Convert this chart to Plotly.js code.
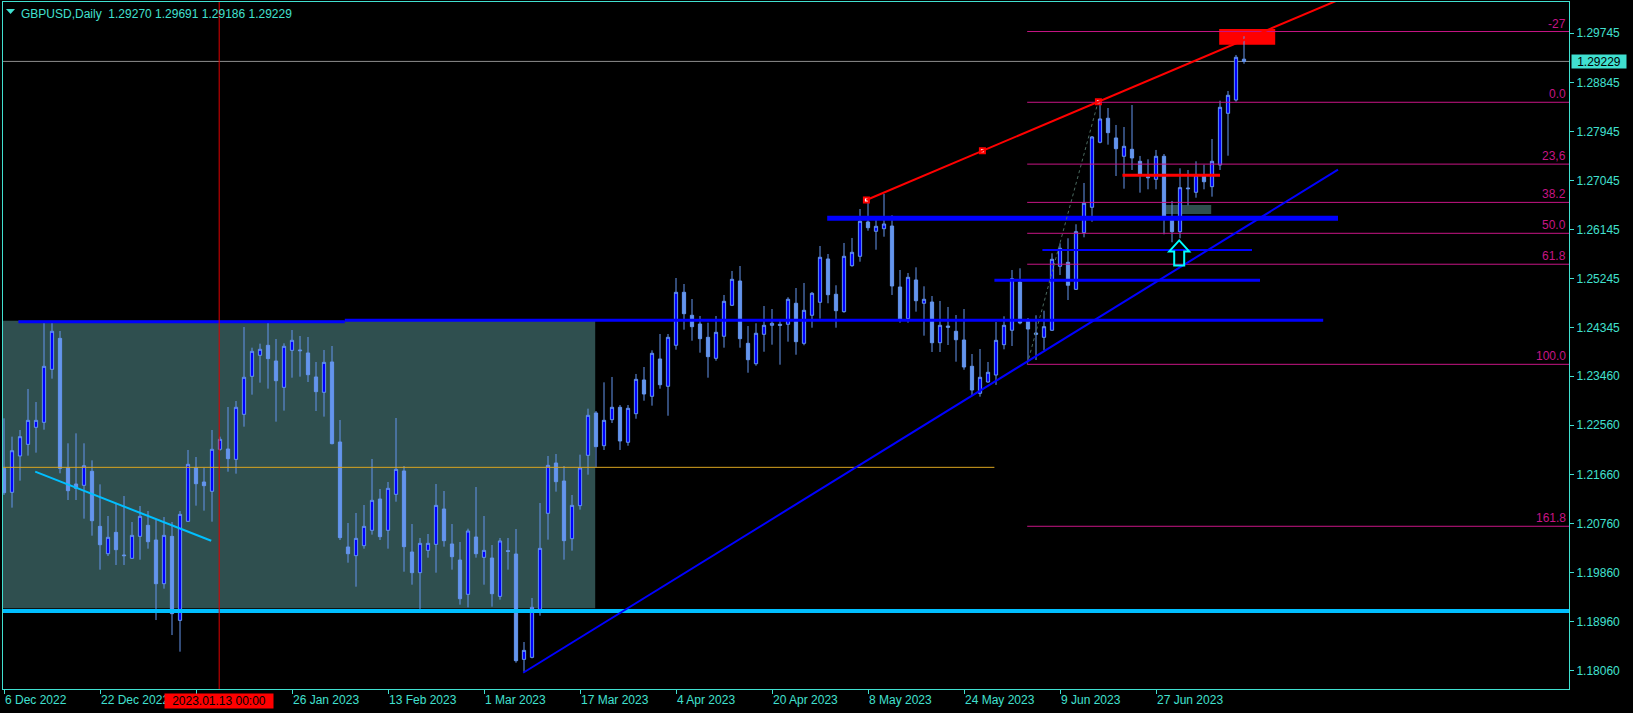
<!DOCTYPE html>
<html><head><meta charset="utf-8">
<script src="https://cdn.plot.ly/plotly-3.0.1.min.js"></script>
<style>html,body{margin:0;padding:0;background:#000;}#chart{width:1633px;height:713px;}</style>
</head><body><div id="chart"></div>
<script>
// ---------- DATA ----------
const openP = [
1.21770,1.21331,1.21997,1.22210,1.22522,1.22614,1.23585,1.24153,1.21783,1.21483,
1.21459,1.21716,1.20707,1.20206,1.20597,1.20182,1.20121,1.20524,1.20726,1.20457,
1.19656,1.20524,1.18984,1.20799,1.21783,1.21520,1.21349,1.22119,1.22125,1.21935,
1.22760,1.23457,1.23842,1.24025,1.23738,1.23255,1.23933,1.23940,1.23885,1.23445,
1.23164,1.23720,1.22253,1.20329,1.20170,1.20353,1.20634,1.21208,1.20634,1.21294,
1.21722,1.20237,1.19858,1.20267,1.20377,1.21025,1.20384,1.20090,1.19461,1.20512,
1.20139,1.20127,1.19424,1.20261,1.20200,1.18269,1.18306,1.19168,1.20946,1.21868,
1.21538,1.20481,1.21086,1.22009,1.22785,1.22185,1.22662,1.22889,1.22248,1.22772,
1.23390,1.23091,1.23775,1.23274,1.24026,1.24997,1.24576,1.24416,1.24172,1.23787,
1.24191,1.24759,1.25204,1.24062,1.23688,1.24227,1.24392,1.24411,1.24411,1.24796,
1.24062,1.24576,1.24814,1.25608,1.24961,1.24642,1.25485,1.25657,1.26286,1.26115,
1.26163,1.26212,1.25094,1.24513,1.25223,1.24796,1.24819,1.24073,1.24379,1.24282,
1.24123,1.23641,1.23146,1.23353,1.23481,1.24037,1.24301,1.25186,1.24471,1.24251,
1.24172,1.24301,1.25474,1.25547,1.25052,1.26090,1.26555,1.27747,1.28187,1.27826,
1.27490,1.27618,1.27398,1.27116,1.27068,1.27490,1.26354,1.26108,1.26909,1.26830,
1.27129,1.26933,1.27331,1.28278,1.28522,1.29270];
const highP = [
1.22687,1.22351,1.22473,1.23225,1.22986,1.24441,1.24441,1.24288,1.22229,1.22412,
1.22229,1.21917,1.21477,1.20897,1.21117,1.21263,1.20787,1.21080,1.20988,1.20823,
1.20878,1.20787,1.20988,1.22107,1.21978,1.21783,1.22473,1.22351,1.22895,1.23005,
1.24361,1.23982,1.24056,1.24441,1.24141,1.24062,1.24306,1.24196,1.24178,1.23720,
1.23940,1.24013,1.22656,1.20768,1.20952,1.21098,1.21942,1.21392,1.21520,1.22693,
1.21813,1.20750,1.20494,1.20567,1.21483,1.21355,1.20750,1.20420,1.20665,1.21428,
1.20897,1.20365,1.20494,1.20494,1.20658,1.18587,1.19394,1.21135,1.21997,1.22033,
1.21813,1.21282,1.22021,1.22864,1.22821,1.23347,1.23445,1.22931,1.22931,1.23500,
1.23628,1.23934,1.24233,1.24233,1.25259,1.25149,1.24874,1.24563,1.24440,1.24563,
1.24948,1.25388,1.25479,1.24379,1.24429,1.24746,1.24691,1.24484,1.24906,1.25076,
1.25168,1.25003,1.25846,1.25699,1.25126,1.25901,1.25993,1.26524,1.26689,1.26390,
1.26799,1.26409,1.25406,1.25351,1.25455,1.25107,1.24929,1.24838,1.24728,1.24581,
1.24691,1.23866,1.23958,1.23720,1.24453,1.24557,1.25406,1.25437,1.24526,1.24576,
1.24660,1.25712,1.25895,1.25987,1.26244,1.27001,1.27862,1.28522,1.28375,1.28064,
1.28027,1.28430,1.27496,1.27435,1.27606,1.27532,1.26671,1.27270,1.27239,1.27398,
1.27336,1.27807,1.28509,1.28687,1.29347,1.29691];
const lowP = [
1.21282,1.21050,1.21544,1.22003,1.22058,1.22479,1.23414,1.21679,1.21190,1.21190,
1.20848,1.20536,1.19913,1.20164,1.19999,1.19999,1.20109,1.20096,1.20298,1.18990,
1.19565,1.18715,1.18410,1.20793,1.21086,1.20995,1.20793,1.22094,1.21709,1.21673,
1.22534,1.23121,1.23341,1.23231,1.22626,1.22828,1.23432,1.23451,1.23353,1.22821,
1.22718,1.22210,1.20457,1.20041,1.19601,1.20298,1.20555,1.20457,1.20298,1.21159,
1.19876,1.19638,1.19174,1.20133,1.19858,1.20335,1.19913,1.19272,1.19223,1.20133,
1.19638,1.19235,1.19363,1.19913,1.18208,1.18043,1.18288,1.19070,1.20463,1.21343,
1.20096,1.20261,1.21013,1.21654,1.21789,1.22107,1.22601,1.22107,1.22185,1.22680,
1.23010,1.22919,1.23230,1.22735,1.23945,1.24312,1.24110,1.23890,1.23432,1.23743,
1.23982,1.24746,1.23982,1.23523,1.23652,1.23908,1.24037,1.23670,1.24092,1.23853,
1.24026,1.24348,1.24513,1.24796,1.24348,1.24623,1.25466,1.25558,1.26126,1.25778,
1.26016,1.24948,1.24440,1.24440,1.24642,1.24202,1.23903,1.23903,1.24031,1.23725,
1.23578,1.23115,1.23084,1.23340,1.23300,1.23952,1.24013,1.24411,1.23725,1.23756,
1.23940,1.24288,1.25314,1.24856,1.25039,1.26005,1.26291,1.27728,1.27703,1.27129,
1.26896,1.27239,1.26823,1.26885,1.26885,1.26060,1.25914,1.25987,1.26592,1.26731,
1.26885,1.26750,1.27239,1.27501,1.28491,1.29186];
const closeP = [
1.21324,1.22094,1.22351,1.22650,1.22650,1.23640,1.24282,1.21770,1.21361,1.21404,
1.21819,1.20811,1.20371,1.20506,1.20280,1.20170,1.20542,1.20891,1.20426,1.19656,
1.20542,1.19107,1.20927,1.21844,1.21489,1.21453,1.22119,1.22302,1.21948,1.22889,
1.23439,1.23915,1.23952,1.23781,1.23377,1.24007,1.24117,1.23927,1.23487,1.23176,
1.23713,1.22223,1.20500,1.20206,1.20487,1.20707,1.21184,1.20518,1.21404,1.21752,
1.20335,1.19858,1.20396,1.20396,1.21092,1.20445,1.20151,1.19381,1.20622,1.20206,
1.20267,1.19473,1.20439,1.20249,1.18245,1.18434,1.19223,1.20304,1.21825,1.21526,
1.20445,1.21092,1.21777,1.22742,1.22168,1.22651,1.22889,1.22272,1.22871,1.23402,
1.23133,1.23879,1.23303,1.24172,1.24997,1.24605,1.24367,1.24147,1.23817,1.24264,
1.24832,1.25235,1.24147,1.23762,1.24246,1.24392,1.24429,1.24392,1.24869,1.24092,
1.24667,1.24979,1.25639,1.24953,1.24660,1.25657,1.25730,1.26299,1.26181,1.26207,
1.26249,1.25113,1.24502,1.25272,1.24843,1.24869,1.24073,1.24392,1.24356,1.24128,
1.23628,1.23206,1.23439,1.23531,1.24117,1.24392,1.25246,1.24434,1.24324,1.24227,
1.24367,1.25602,1.25804,1.25126,1.26108,1.26629,1.27844,1.28174,1.27923,1.27629,
1.27673,1.27459,1.27166,1.27098,1.27490,1.26346,1.26108,1.26915,1.26896,1.27147,
1.27024,1.27398,1.28388,1.28608,1.29305,1.29229];

const dateTickLabels = ['6 Dec 2022','22 Dec 2022','10 Jan 2023','26 Jan 2023','13 Feb 2023','1 Mar 2023',
  '17 Mar 2023','4 Apr 2023','20 Apr 2023','8 May 2023','24 May 2023','9 Jun 2023','27 Jun 2023'];
const barsPerDateTick = 12;
const priceTicks = [1.29745,1.28845,1.27945,1.27045,1.26145,1.25245,1.24345,1.23460,1.22560,1.21660,1.20760,1.19860,1.18960,1.18060];

const symbolName = 'GBPUSD,Daily';
const lastBarOHLC = [1.29270,1.29691,1.29186,1.29229];
const crosshairBar = 26.9;
const crosshairLabel = '2023.01.13 00:00';

// analysis objects (bar index, price)
const zoneBarFrom = -2, zoneBarTo = 73.9, zoneLow = 1.19205, zoneHigh = 1.24477;
const supportPrice = 1.19155;
const pivotPrice = 1.21789, pivotBarTo = 123.8;
const blueLevelPrices = [1.24458, 1.24484, 1.26354, 1.25773, 1.25217];
const blueLevelFrom   = [1.8, 42.6, 102.9, 129.8, 123.8];
const blueLevelTo     = [42.6, 164.9, 166.75, 156.0, 157.0];
const redLevelPrice = 1.27142, redLevelFrom = 139.8, redLevelTo = 152.0;
const downTrendBars = [3.9, 25.9], downTrendPrices = [1.21709, 1.20444];
const upTrendBars = [64.9, 166.75], upTrendPrices = [1.18024, 1.27244];
const channelBars = [107.8, 136.8], channelPrices = [1.26689, 1.28491];
const fibLevels = [-27, 0, 23.6, 38.2, 50, 61.8, 100, 161.8];
const fibLabels = ['-27','0.0','23,6','38.2','50.0','61.8','100.0','161.8'];
const fibHigh = 1.28480, fibLow = 1.23677, fibLowBar = 127.9, fibHighBar = 136.75;
const targetBoxBars = [151.9, 158.9], targetBoxPrices = [1.29536, 1.29823];
const smallBoxBars = [145.25, 150.9], smallBoxPrices = [1.26432, 1.26597];
const arrowBar = 146.9, arrowPrice = 1.25948;

// ---------- DRAWING ----------
const TQ = '#40E0D0';
const FONT = 'Liberation Sans, Arial, sans-serif';
const bars = openP.map((_, i) => i);
const xMax = 195.625;

const candle = {
  type: 'candlestick', x: bars, open: openP, high: highP, low: lowP, close: closeP,
  increasing: {line: {color: '#6495ED', width: 1}, fillcolor: '#0000FF'},
  decreasing: {line: {color: '#6495ED', width: 1}, fillcolor: '#6495ED'},
  whiskerwidth: 0, hoverinfo: 'skip', showlegend: false
};
const chMid = (channelBars[0] + channelBars[1]) / 2;
const chSlope = (channelPrices[1] - channelPrices[0]) / (channelBars[1] - channelBars[0]);
const anchors = {
  type: 'scatter', mode: 'markers',
  x: [channelBars[0], chMid, channelBars[1]],
  y: [channelPrices[0], channelPrices[0] + chSlope * (chMid - channelBars[0]), channelPrices[1]],
  marker: {symbol: 'square', size: 5, color: '#FFFFFF', line: {color: '#FF0000', width: 2}},
  hoverinfo: 'skip', showlegend: false
};

const shapes = [];
const seg = (x0, y0, x1, y1, color, width, layer, dash) => shapes.push({
  type: 'line', xref: 'x', yref: 'y', x0, y0, x1, y1, layer: layer || 'above',
  line: {color, width, dash: dash || 'solid'}
});
shapes.push({type: 'rect', xref: 'x', yref: 'y', x0: zoneBarFrom, x1: zoneBarTo, y0: zoneLow, y1: zoneHigh,
  fillcolor: '#2F4F4F', line: {width: 0}, layer: 'below'});
shapes.push({type: 'rect', xref: 'x', yref: 'y', x0: smallBoxBars[0], x1: smallBoxBars[1], y0: smallBoxPrices[0], y1: smallBoxPrices[1],
  fillcolor: '#2F4F4F', line: {width: 0}, layer: 'below'});
shapes.push({type: 'rect', xref: 'x', yref: 'y', x0: targetBoxBars[0], x1: targetBoxBars[1], y0: targetBoxPrices[0], y1: targetBoxPrices[1],
  fillcolor: '#FF0000', line: {width: 0}, layer: 'below'});
shapes.push({type: 'line', xref: 'paper', yref: 'y', x0: 0, x1: 1, y0: lastBarOHLC[3], y1: lastBarOHLC[3],
  line: {color: '#8C8C8C', width: 1}, layer: 'below'});
seg(-2, pivotPrice, pivotBarTo, pivotPrice, '#DAA520', 1);
seg(-2, supportPrice, xMax + 2, supportPrice, '#00BFFF', 4);
const blueWidths = [3, 3, 5, 2, 3];
blueLevelPrices.forEach((p, i) => seg(blueLevelFrom[i], p, blueLevelTo[i], p, '#0000FF', blueWidths[i]));
seg(redLevelFrom, redLevelPrice, redLevelTo, redLevelPrice, '#FF0000', 3);
fibLevels.forEach(l => {
  const p = fibHigh - (fibHigh - fibLow) * l / 100;
  seg(fibLowBar, p, xMax + 1, p, '#C71585', 1);
});
seg(fibLowBar, fibLow, fibHighBar, fibHigh, '#4A6A60', 1, 'above', 'dot');
seg(downTrendBars[0], downTrendPrices[0], downTrendBars[1], downTrendPrices[1], '#00BFFF', 2);
seg(upTrendBars[0], upTrendPrices[0], upTrendBars[1], upTrendPrices[1], '#0000FF', 2);
const rayEnd = 180;
seg(channelBars[0], channelPrices[0], rayEnd, channelPrices[0] + chSlope * (rayEnd - channelBars[0]), '#FF0000', 2);
shapes.push({type: 'line', xref: 'x', yref: 'paper', x0: crosshairBar, x1: crosshairBar, y0: 0, y1: 1,
  line: {color: '#E00000', width: 1}, layer: 'above'});
shapes.push({type: 'path', xref: 'x', yref: 'y', xsizemode: 'pixel', ysizemode: 'pixel',
  xanchor: arrowBar, yanchor: arrowPrice,
  path: 'M 0 0 L 10 -11 L 5 -11 L 5 -25 L -5 -25 L -5 -11 L -10 -11 Z',
  line: {color: '#00FFFF', width: 2}, fillcolor: 'rgba(0,0,0,0)', layer: 'above'});
shapes.push({type: 'path', xref: 'paper', yref: 'paper',
  path: 'M 0.0019 0.9898 L 0.0077 0.9898 L 0.0048 0.9825 Z', fillcolor: TQ, line: {width: 0}});

const annotations = [];
const nb = '\u00a0';
annotations.push({xref: 'paper', yref: 'paper', x: 0, y: 1, xanchor: 'left', yanchor: 'top', xshift: 16, yshift: -3,
  showarrow: false, text: symbolName + nb + nb + lastBarOHLC.map(v => v.toFixed(5)).join(' '),
  font: {family: FONT, size: 12, color: TQ}});
fibLevels.forEach((l, i) => {
  const p = fibHigh - (fibHigh - fibLow) * l / 100;
  annotations.push({xref: 'paper', yref: 'y', x: 1, y: p, xanchor: 'right', yanchor: 'bottom', xshift: -1, yshift: -1,
    showarrow: false, text: fibLabels[i], font: {family: FONT, size: 12, color: '#C71585'}});
});
annotations.push({xref: 'paper', yref: 'y', x: 1, y: lastBarOHLC[3], xanchor: 'left', yanchor: 'middle', xshift: 2,
  showarrow: false, text: lastBarOHLC[3].toFixed(5), bgcolor: TQ, width: 54, height: 13, borderpad: 0,
  font: {family: FONT, size: 12, color: '#000000'}});
annotations.push({xref: 'x', yref: 'paper', x: crosshairBar, y: 0, xanchor: 'center', yanchor: 'top', yshift: -4,
  showarrow: false, text: crosshairLabel, bgcolor: '#FF0000', width: 108, height: 14, borderpad: 0,
  font: {family: FONT, size: 12, color: '#000000'}});

// the tick label hidden under the crosshair time label is left blank, as in the reference
const tickVals = dateTickLabels.map((_, i) => i * barsPerDateTick);
const tickText = dateTickLabels.map((t, i) => Math.abs(tickVals[i] - crosshairBar) < 7 ? '' : t);

const layout = {
  width: 1633, height: 713,
  paper_bgcolor: '#000000', plot_bgcolor: '#000000',
  margin: {l: 3, r: 64, t: 2, b: 24},
  boxgap: 0.42,
  showlegend: false,
  font: {family: FONT, size: 12, color: TQ},
  xaxis: {
    type: 'linear', range: [-0.125, xMax], rangeslider: {visible: false},
    tickvals: tickVals, ticktext: tickText,
    ticks: 'outside', ticklen: 4, tickcolor: TQ, ticklabelposition: 'outside right',
    tickfont: {family: FONT, size: 12, color: TQ},
    showgrid: false, zeroline: false, showline: true, mirror: true, linecolor: TQ, linewidth: 1, fixedrange: true
  },
  yaxis: {
    side: 'right', range: [1.17726, 1.30318],
    tickvals: priceTicks, ticktext: priceTicks.map(v => v.toFixed(5)),
    ticks: 'outside', ticklen: 4, tickcolor: TQ,
    tickfont: {family: FONT, size: 12, color: TQ},
    showgrid: false, zeroline: false, showline: true, mirror: true, linecolor: TQ, linewidth: 1, fixedrange: true
  },
  shapes, annotations
};
Plotly.newPlot('chart', [candle, anchors], layout, {staticPlot: true, displayModeBar: false});
</script></body></html>
